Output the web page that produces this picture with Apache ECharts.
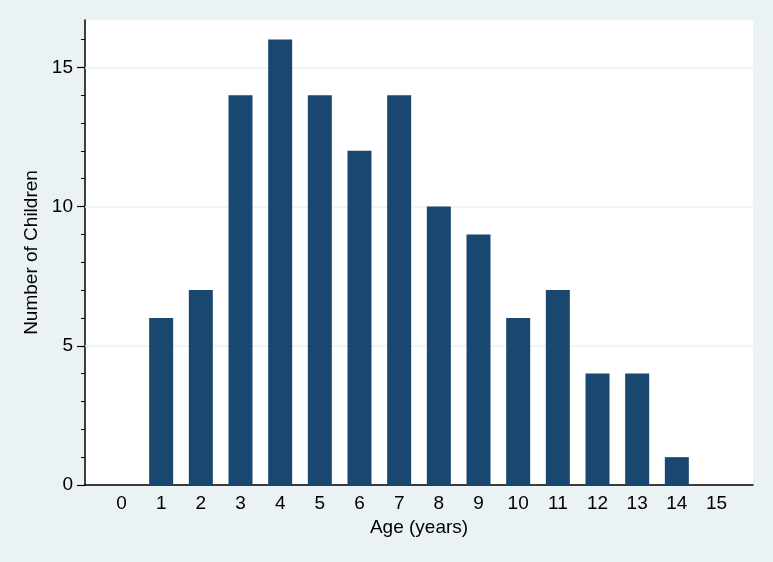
<!DOCTYPE html>
<html>
<head>
<meta charset="utf-8">
<script src="https://cdn.jsdelivr.net/npm/echarts@6/dist/echarts.min.js"></script>
<style>
    html, body { margin: 0; padding: 0; background: #EAF2F3; }
    #chart { width: 773px; height: 562px; }
</style>
</head>
<body>
<div id="chart"></div>
<script>
// data
const ages = [0, 1, 2, 3, 4, 5, 6, 7, 8, 9, 10, 11, 12, 13, 14, 15]
const children = [0, 6, 7, 14, 16, 14, 12, 14, 10, 9, 6, 7, 4, 4, 1, 0]
const yMajorTicks = [0, 5, 10, 15]
const yMinorTicks = [0, 1, 2, 3, 4, 5, 6, 7, 8, 9, 10, 11, 12, 13, 14, 15, 16]
const gridValues = [5, 10, 15]

const font = 'Liberation Sans, Arial, sans-serif'
const chart = echarts.init(document.getElementById('chart'))

chart.setOption({
    backgroundColor: '#EAF2F3',
    animation: false,
    grid: {
        left: 85,
        right: 20,
        top: 20,
        bottom: 77,
        show: true,
        backgroundColor: '#ffffff',
        borderWidth: 0,
    },
    xAxis: {
        type: 'value',
        min: -0.92,
        max: 15.92,
        name: 'Age (years)',
        nameLocation: 'middle',
        nameGap: 33,
        nameTextStyle: { fontFamily: font, fontSize: 19, color: '#000' },
        axisLine: { onZero: false, lineStyle: { color: '#000', width: 1.5 } },
        axisTick: { show: false },
        splitLine: { show: false },
        axisLabel: {
            customValues: ages,
            margin: 9,
            fontFamily: font,
            fontSize: 19,
            color: '#000',
        },
    },
    yAxis: [
        {
            type: 'value',
            min: 0,
            max: 16.7,
            position: 'left',
            name: 'Number of Children',
            nameLocation: 'middle',
            nameGap: 43,
            nameTextStyle: { fontFamily: font, fontSize: 19, color: '#000' },
            axisLine: { show: true, onZero: false, lineStyle: { color: '#000', width: 1.5 } },
            axisTick: {
                show: true,
                customValues: yMajorTicks,
                length: 8,
                lineStyle: { color: '#000', width: 1.2 },
            },
            axisLabel: {
                customValues: yMajorTicks,
                margin: 12,
                fontFamily: font,
                fontSize: 19,
                color: '#000',
            },
            splitLine: { show: false },
        },
        {
            // minor ticks every unit
            type: 'value',
            min: 0,
            max: 16.7,
            position: 'left',
            offset: 0,
            axisLine: { show: false, onZero: false },
            axisTick: {
                show: true,
                customValues: yMinorTicks,
                length: 4,
                lineStyle: { color: '#000', width: 1 },
            },
            axisLabel: { show: false },
            splitLine: { show: false },
        },
    ],
    series: [
        {
            type: 'bar',
            barWidth: 24,
            data: ages.map((a, i) => [a, children[i]]),
            itemStyle: { color: '#1A476F' },
            markLine: {
                silent: true,
                symbol: 'none',
                label: { show: false },
                lineStyle: { color: '#EAF2F3', width: 1.5, type: 'solid' },
                data: gridValues.map((v) => ({ yAxis: v })),
                z: 1,
            },
            z: 2,
        },
    ],
})
</script>
</body>
</html>
